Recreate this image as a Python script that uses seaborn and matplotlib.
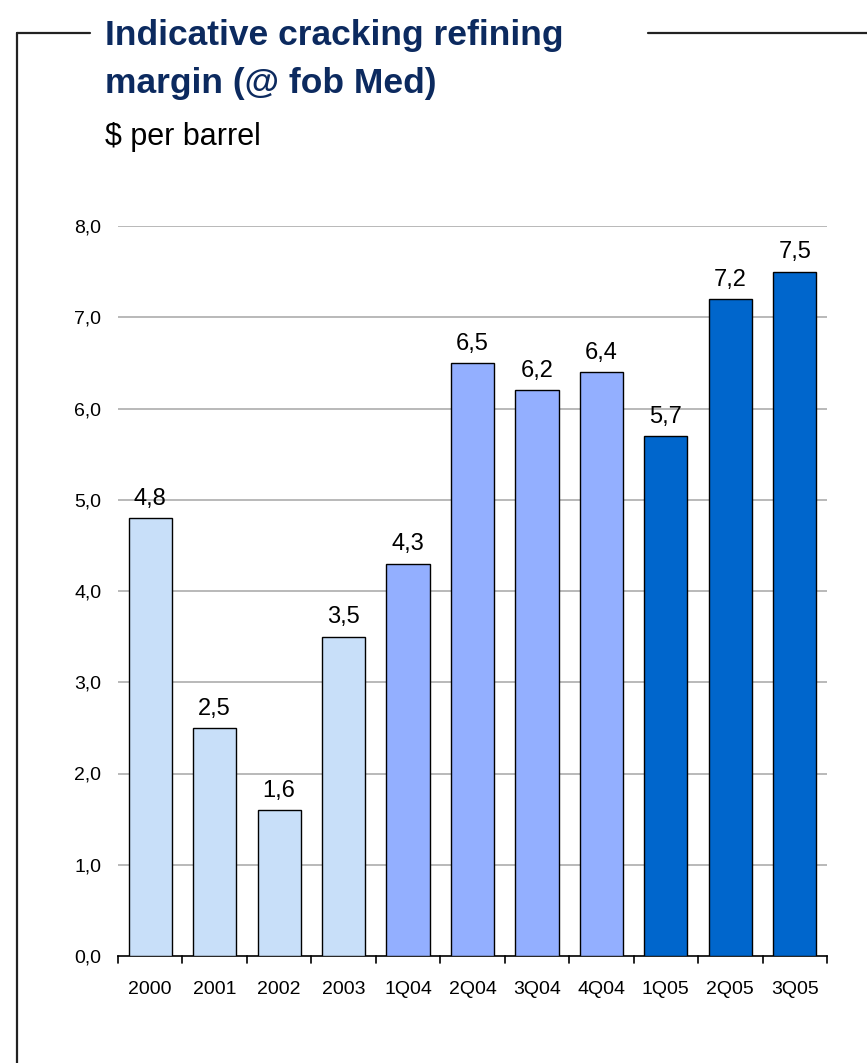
import matplotlib
matplotlib.use("Agg")
import matplotlib.pyplot as plt
from matplotlib.lines import Line2D
import seaborn as sns
import pandas as pd

# Refining margin data, $ per barrel
periods = ["2000", "2001", "2002", "2003", "1Q04", "2Q04", "3Q04", "4Q04", "1Q05", "2Q05", "3Q05"]
margins = [4.8, 2.5, 1.6, 3.5, 4.3, 6.5, 6.2, 6.4, 5.7, 7.2, 7.5]
groups = ["annual"] * 4 + ["2004"] * 4 + ["2005"] * 3
group_colors = {"annual": "#C8DFF9", "2004": "#93AFFF", "2005": "#0066CC"}
y_ticks = [0, 1, 2, 3, 4, 5, 6, 7, 8]

df = pd.DataFrame({"period": periods, "margin": margins, "group": groups})

sns.set_theme(style="white")
plt.rcParams["font.family"] = ["Liberation Sans", "DejaVu Sans"]

W, H = 867, 1063
fig = plt.figure(figsize=(W / 100, H / 100), dpi=100)
ax = fig.add_axes([118 / W, 1 - 956 / H, (827 - 118) / W, (956 - 226) / H])

sns.barplot(data=df, x="period", y="margin", hue="group", palette=group_colors,
            dodge=False, width=0.67, saturation=1, edgecolor="black", linewidth=1.0,
            legend=False, ax=ax, zorder=3)

ax.set_xlim(-0.5, len(periods) - 0.5)
ax.set_ylim(0, 8)
ax.set_yticks(y_ticks)
ax.set_yticklabels([f"{v:.1f}".replace(".", ",") for v in y_ticks], fontsize=14)
ax.set_xlabel("")
ax.set_ylabel("")

# Horizontal gridlines (none at zero)
for v in y_ticks[1:]:
    ax.axhline(v, color="#A6A6A6", linewidth=1.1, zorder=1)

for s in ["left", "right", "top"]:
    ax.spines[s].set_visible(False)
ax.spines["bottom"].set_color("black")
ax.spines["bottom"].set_linewidth(1.2)

# Category separator ticks on the x axis
ax.set_xticks(range(len(periods)))
ax.set_xticklabels(periods, fontsize=14)
ax.tick_params(axis="x", length=0, pad=18, colors="black")
ax.tick_params(axis="y", length=0, pad=12, colors="black")
for i in range(len(periods) + 1):
    ax.plot([i - 0.5, i - 0.5], [0, -0.08], color="black", linewidth=1.2,
            clip_on=False, zorder=4)

# Value labels
for i, v in enumerate(margins):
    ax.text(i, v + 0.09, f"{v:.1f}".replace(".", ","), ha="center", va="bottom",
            fontsize=17, color="black", zorder=5)

# Title block
fig.text(105 / W, 1 - 45 / H, "Indicative cracking refining", ha="left", va="baseline",
         fontsize=25.5, fontweight="bold", color="#0C2A5F")
fig.text(105 / W, 1 - 93 / H, "margin (@ fob Med)", ha="left", va="baseline",
         fontsize=25.5, fontweight="bold", color="#0C2A5F")
fig.text(105 / W, 1 - 145 / H, "$ per barrel", ha="left", va="baseline",
         fontsize=22, color="black")

# Frame lines around the panel
yl = 1 - 33 / H
fig.add_artist(Line2D([17 / W, 90 / W], [yl, yl], color="#222222", linewidth=1.6))
fig.add_artist(Line2D([648 / W, 1.0], [yl, yl], color="#222222", linewidth=1.6))
fig.add_artist(Line2D([17 / W, 17 / W], [yl, 0], color="#222222", linewidth=1.6))

fig.savefig("out.png", dpi=100)
